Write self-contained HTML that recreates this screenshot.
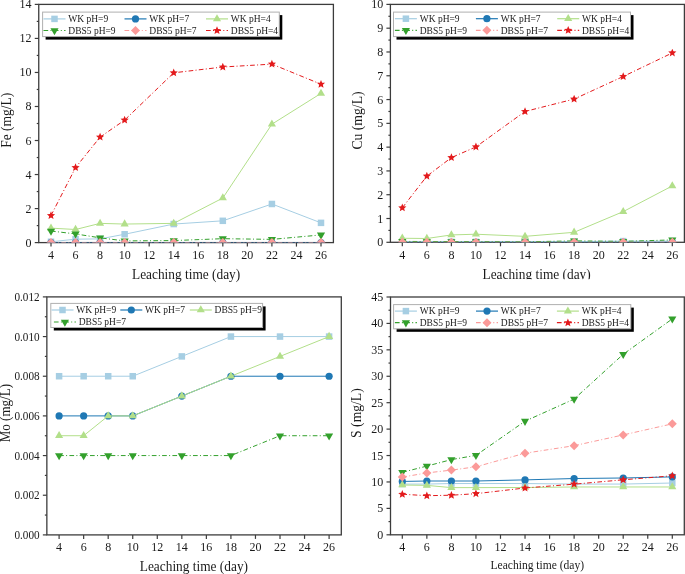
<!DOCTYPE html>
<html><head><meta charset="utf-8"><style>
html,body{margin:0;padding:0;background:#fff;}
body{width:685px;height:574px;overflow:hidden;}
svg{display:block;font-family:"Liberation Serif", serif;filter:blur(0.35px);}
</style></head><body>
<svg width="685" height="574" viewBox="0 0 685 574">
<rect width="685" height="574" fill="#fff"/>
<clipPath id="cfe"><rect x="38.75" y="4.4" width="294.65" height="238.2"/></clipPath>
<rect x="38.75" y="4.4" width="294.65" height="238.2" fill="none" stroke="#3c3c3c" stroke-width="1.3"/>
<line x1="51.00" y1="242.6" x2="51.00" y2="246.6" stroke="#3c3c3c" stroke-width="1.2"/>
<text x="51.00" y="258.80" font-size="12" text-anchor="middle" fill="#1a1a1a">4</text>
<line x1="75.55" y1="242.6" x2="75.55" y2="246.6" stroke="#3c3c3c" stroke-width="1.2"/>
<text x="75.55" y="258.80" font-size="12" text-anchor="middle" fill="#1a1a1a">6</text>
<line x1="100.09" y1="242.6" x2="100.09" y2="246.6" stroke="#3c3c3c" stroke-width="1.2"/>
<text x="100.09" y="258.80" font-size="12" text-anchor="middle" fill="#1a1a1a">8</text>
<line x1="124.64" y1="242.6" x2="124.64" y2="246.6" stroke="#3c3c3c" stroke-width="1.2"/>
<text x="124.64" y="258.80" font-size="12" text-anchor="middle" fill="#1a1a1a">10</text>
<line x1="149.18" y1="242.6" x2="149.18" y2="246.6" stroke="#3c3c3c" stroke-width="1.2"/>
<text x="149.18" y="258.80" font-size="12" text-anchor="middle" fill="#1a1a1a">12</text>
<line x1="173.73" y1="242.6" x2="173.73" y2="246.6" stroke="#3c3c3c" stroke-width="1.2"/>
<text x="173.73" y="258.80" font-size="12" text-anchor="middle" fill="#1a1a1a">14</text>
<line x1="198.27" y1="242.6" x2="198.27" y2="246.6" stroke="#3c3c3c" stroke-width="1.2"/>
<text x="198.27" y="258.80" font-size="12" text-anchor="middle" fill="#1a1a1a">16</text>
<line x1="222.82" y1="242.6" x2="222.82" y2="246.6" stroke="#3c3c3c" stroke-width="1.2"/>
<text x="222.82" y="258.80" font-size="12" text-anchor="middle" fill="#1a1a1a">18</text>
<line x1="247.36" y1="242.6" x2="247.36" y2="246.6" stroke="#3c3c3c" stroke-width="1.2"/>
<text x="247.36" y="258.80" font-size="12" text-anchor="middle" fill="#1a1a1a">20</text>
<line x1="271.91" y1="242.6" x2="271.91" y2="246.6" stroke="#3c3c3c" stroke-width="1.2"/>
<text x="271.91" y="258.80" font-size="12" text-anchor="middle" fill="#1a1a1a">22</text>
<line x1="296.45" y1="242.6" x2="296.45" y2="246.6" stroke="#3c3c3c" stroke-width="1.2"/>
<text x="296.45" y="258.80" font-size="12" text-anchor="middle" fill="#1a1a1a">24</text>
<line x1="321.00" y1="242.6" x2="321.00" y2="246.6" stroke="#3c3c3c" stroke-width="1.2"/>
<text x="321.00" y="258.80" font-size="12" text-anchor="middle" fill="#1a1a1a">26</text>
<line x1="34.75" y1="242.60" x2="38.75" y2="242.60" stroke="#3c3c3c" stroke-width="1.2"/>
<text x="0" y="0" font-size="12" text-anchor="end" fill="#1a1a1a" transform="translate(31.55,246.60) scale(1.0,1)">0</text>
<line x1="34.75" y1="208.57" x2="38.75" y2="208.57" stroke="#3c3c3c" stroke-width="1.2"/>
<text x="0" y="0" font-size="12" text-anchor="end" fill="#1a1a1a" transform="translate(31.55,212.57) scale(1.0,1)">2</text>
<line x1="34.75" y1="174.54" x2="38.75" y2="174.54" stroke="#3c3c3c" stroke-width="1.2"/>
<text x="0" y="0" font-size="12" text-anchor="end" fill="#1a1a1a" transform="translate(31.55,178.54) scale(1.0,1)">4</text>
<line x1="34.75" y1="140.51" x2="38.75" y2="140.51" stroke="#3c3c3c" stroke-width="1.2"/>
<text x="0" y="0" font-size="12" text-anchor="end" fill="#1a1a1a" transform="translate(31.55,144.51) scale(1.0,1)">6</text>
<line x1="34.75" y1="106.49" x2="38.75" y2="106.49" stroke="#3c3c3c" stroke-width="1.2"/>
<text x="0" y="0" font-size="12" text-anchor="end" fill="#1a1a1a" transform="translate(31.55,110.49) scale(1.0,1)">8</text>
<line x1="34.75" y1="72.46" x2="38.75" y2="72.46" stroke="#3c3c3c" stroke-width="1.2"/>
<text x="0" y="0" font-size="12" text-anchor="end" fill="#1a1a1a" transform="translate(31.55,76.46) scale(1.0,1)">10</text>
<line x1="34.75" y1="38.43" x2="38.75" y2="38.43" stroke="#3c3c3c" stroke-width="1.2"/>
<text x="0" y="0" font-size="12" text-anchor="end" fill="#1a1a1a" transform="translate(31.55,42.43) scale(1.0,1)">12</text>
<line x1="34.75" y1="4.40" x2="38.75" y2="4.40" stroke="#3c3c3c" stroke-width="1.2"/>
<text x="0" y="0" font-size="12" text-anchor="end" fill="#1a1a1a" transform="translate(31.55,8.40) scale(1.0,1)">14</text>
<line x1="36.75" y1="225.59" x2="38.75" y2="225.59" stroke="#3c3c3c" stroke-width="1.2"/>
<line x1="36.75" y1="191.56" x2="38.75" y2="191.56" stroke="#3c3c3c" stroke-width="1.2"/>
<line x1="36.75" y1="157.53" x2="38.75" y2="157.53" stroke="#3c3c3c" stroke-width="1.2"/>
<line x1="36.75" y1="123.50" x2="38.75" y2="123.50" stroke="#3c3c3c" stroke-width="1.2"/>
<line x1="36.75" y1="89.47" x2="38.75" y2="89.47" stroke="#3c3c3c" stroke-width="1.2"/>
<line x1="36.75" y1="55.44" x2="38.75" y2="55.44" stroke="#3c3c3c" stroke-width="1.2"/>
<line x1="36.75" y1="21.41" x2="38.75" y2="21.41" stroke="#3c3c3c" stroke-width="1.2"/>
<text x="0" y="0" font-size="14" text-anchor="middle" fill="#1a1a1a" transform="translate(186.1,278.7) scale(0.955,1)">Leaching time (day)</text>
<text x="0" y="0" font-size="14.5" text-anchor="middle" fill="#1a1a1a" transform="translate(11.0,120.3) rotate(-90) scale(0.93,1)">Fe (mg/L)</text>
<g clip-path="url(#cfe)">
<polyline points="51.00,241.75 75.55,239.20 100.09,238.86 124.64,234.26 173.73,224.05 222.82,220.82 271.91,203.98 321.00,222.86" fill="none" stroke="#a6cee3" stroke-width="1.0"/>
<rect x="47.75" y="238.50" width="6.5" height="6.5" fill="#a6cee3"/>
<rect x="72.30" y="235.95" width="6.5" height="6.5" fill="#a6cee3"/>
<rect x="96.84" y="235.61" width="6.5" height="6.5" fill="#a6cee3"/>
<rect x="121.39" y="231.01" width="6.5" height="6.5" fill="#a6cee3"/>
<rect x="170.48" y="220.80" width="6.5" height="6.5" fill="#a6cee3"/>
<rect x="219.57" y="217.57" width="6.5" height="6.5" fill="#a6cee3"/>
<rect x="268.66" y="200.73" width="6.5" height="6.5" fill="#a6cee3"/>
<rect x="317.75" y="219.61" width="6.5" height="6.5" fill="#a6cee3"/>
<polyline points="51.00,242.60 75.55,242.60 100.09,242.60 124.64,242.60 173.73,242.60 222.82,242.60 271.91,242.60 321.00,242.60" fill="none" stroke="#1f78b4" stroke-width="1.0"/>
<circle cx="51.00" cy="242.60" r="3.6" fill="#1f78b4"/>
<circle cx="75.55" cy="242.60" r="3.6" fill="#1f78b4"/>
<circle cx="100.09" cy="242.60" r="3.6" fill="#1f78b4"/>
<circle cx="124.64" cy="242.60" r="3.6" fill="#1f78b4"/>
<circle cx="173.73" cy="242.60" r="3.6" fill="#1f78b4"/>
<circle cx="222.82" cy="242.60" r="3.6" fill="#1f78b4"/>
<circle cx="271.91" cy="242.60" r="3.6" fill="#1f78b4"/>
<circle cx="321.00" cy="242.60" r="3.6" fill="#1f78b4"/>
<polyline points="51.00,228.14 75.55,229.50 100.09,223.37 124.64,224.05 173.73,223.37 222.82,198.02 271.91,124.18 321.00,93.38" fill="none" stroke="#b2df8a" stroke-width="1.0"/>
<polygon points="51.00,223.44 55.07,230.49 46.93,230.49" fill="#b2df8a"/>
<polygon points="75.55,224.80 79.62,231.85 71.48,231.85" fill="#b2df8a"/>
<polygon points="100.09,218.67 104.16,225.72 96.02,225.72" fill="#b2df8a"/>
<polygon points="124.64,219.35 128.71,226.40 120.57,226.40" fill="#b2df8a"/>
<polygon points="173.73,218.67 177.80,225.72 169.66,225.72" fill="#b2df8a"/>
<polygon points="222.82,193.32 226.89,200.37 218.75,200.37" fill="#b2df8a"/>
<polygon points="271.91,119.48 275.98,126.53 267.84,126.53" fill="#b2df8a"/>
<polygon points="321.00,88.68 325.07,95.73 316.93,95.73" fill="#b2df8a"/>
<polyline points="51.00,231.03 75.55,233.92 100.09,237.84 124.64,240.90 173.73,240.56 222.82,238.69 271.91,239.37 321.00,234.94" fill="none" stroke="#33a02c" stroke-width="1.0" stroke-dasharray="4.7 2.3 1 2.3"/>
<polygon points="51.00,235.73 55.07,228.68 46.93,228.68" fill="#33a02c"/>
<polygon points="75.55,238.62 79.62,231.57 71.48,231.57" fill="#33a02c"/>
<polygon points="100.09,242.54 104.16,235.49 96.02,235.49" fill="#33a02c"/>
<polygon points="124.64,245.60 128.71,238.55 120.57,238.55" fill="#33a02c"/>
<polygon points="173.73,245.26 177.80,238.21 169.66,238.21" fill="#33a02c"/>
<polygon points="222.82,243.39 226.89,236.34 218.75,236.34" fill="#33a02c"/>
<polygon points="271.91,244.07 275.98,237.02 267.84,237.02" fill="#33a02c"/>
<polygon points="321.00,239.64 325.07,232.59 316.93,232.59" fill="#33a02c"/>
<polyline points="51.00,242.60 75.55,242.60 100.09,242.60 124.64,242.60 173.73,242.60 222.82,242.60 271.91,242.60 321.00,242.60" fill="none" stroke="#fb9a99" stroke-width="1.0" stroke-dasharray="4.7 2.3 1 2.3"/>
<polygon points="51.00,238.10 55.50,242.60 51.00,247.10 46.50,242.60" fill="#fb9a99"/>
<polygon points="75.55,238.10 80.05,242.60 75.55,247.10 71.05,242.60" fill="#fb9a99"/>
<polygon points="100.09,238.10 104.59,242.60 100.09,247.10 95.59,242.60" fill="#fb9a99"/>
<polygon points="124.64,238.10 129.14,242.60 124.64,247.10 120.14,242.60" fill="#fb9a99"/>
<polygon points="173.73,238.10 178.23,242.60 173.73,247.10 169.23,242.60" fill="#fb9a99"/>
<polygon points="222.82,238.10 227.32,242.60 222.82,247.10 218.32,242.60" fill="#fb9a99"/>
<polygon points="271.91,238.10 276.41,242.60 271.91,247.10 267.41,242.60" fill="#fb9a99"/>
<polygon points="321.00,238.10 325.50,242.60 321.00,247.10 316.50,242.60" fill="#fb9a99"/>
<polyline points="51.00,215.55 75.55,167.57 100.09,137.11 124.64,120.10 173.73,72.80 222.82,67.01 271.91,64.12 321.00,84.20" fill="none" stroke="#e31a1c" stroke-width="1.0" stroke-dasharray="4.7 2.3 1 2.3"/>
<polygon points="51.00,211.25 52.14,213.98 55.09,214.22 52.84,216.15 53.53,219.03 51.00,217.48 48.47,219.03 49.16,216.15 46.91,214.22 49.86,213.98" fill="#e31a1c"/>
<polygon points="75.55,163.27 76.68,166.00 79.63,166.24 77.39,168.16 78.07,171.05 75.55,169.50 73.02,171.05 73.71,168.16 71.46,166.24 74.41,166.00" fill="#e31a1c"/>
<polygon points="100.09,132.81 101.23,135.55 104.18,135.78 101.93,137.71 102.62,140.59 100.09,139.05 97.56,140.59 98.25,137.71 96.00,135.78 98.95,135.55" fill="#e31a1c"/>
<polygon points="124.64,115.80 125.77,118.53 128.73,118.77 126.48,120.70 127.16,123.58 124.64,122.03 122.11,123.58 122.80,120.70 120.55,118.77 123.50,118.53" fill="#e31a1c"/>
<polygon points="173.73,68.50 174.86,71.23 177.82,71.47 175.57,73.40 176.25,76.28 173.73,74.73 171.20,76.28 171.89,73.40 169.64,71.47 172.59,71.23" fill="#e31a1c"/>
<polygon points="222.82,62.71 223.96,65.45 226.91,65.68 224.66,67.61 225.35,70.49 222.82,68.95 220.29,70.49 220.98,67.61 218.73,65.68 221.68,65.45" fill="#e31a1c"/>
<polygon points="271.91,59.82 273.05,62.55 276.00,62.79 273.75,64.72 274.44,67.60 271.91,66.06 269.38,67.60 270.07,64.72 267.82,62.79 270.77,62.55" fill="#e31a1c"/>
<polygon points="321.00,79.90 322.14,82.63 325.09,82.87 322.84,84.79 323.53,87.68 321.00,86.13 318.47,87.68 319.16,84.79 316.91,82.87 319.86,82.63" fill="#e31a1c"/>
</g>
<rect x="45.6" y="15.1" width="236.70000000000002" height="24.5" fill="#000"/>
<rect x="42.6" y="12.1" width="236.70000000000002" height="24.5" fill="#fff" stroke="#b0b0b0" stroke-width="1"/>
<line x1="43.50" y1="18.90" x2="65.50" y2="18.90" stroke="#a6cee3" stroke-width="1.2"/>
<rect x="51.25" y="15.65" width="6.5" height="6.5" fill="#a6cee3"/>
<text x="68.30" y="22.20" font-size="9.5" text-anchor="start" fill="#1a1a1a">WK pH=9</text>
<line x1="124.50" y1="18.90" x2="146.50" y2="18.90" stroke="#1f78b4" stroke-width="1.2"/>
<circle cx="135.50" cy="18.90" r="3.6" fill="#1f78b4"/>
<text x="149.30" y="22.20" font-size="9.5" text-anchor="start" fill="#1a1a1a">WK pH=7</text>
<line x1="206.00" y1="18.90" x2="228.00" y2="18.90" stroke="#b2df8a" stroke-width="1.2"/>
<polygon points="217.00,14.20 221.07,21.25 212.93,21.25" fill="#b2df8a"/>
<text x="230.80" y="22.20" font-size="9.5" text-anchor="start" fill="#1a1a1a">WK pH=4</text>
<line x1="43.50" y1="30.50" x2="65.50" y2="30.50" stroke="#33a02c" stroke-width="1.2" stroke-dasharray="4.7 2.3 1 2.3"/>
<polygon points="54.50,35.20 58.57,28.15 50.43,28.15" fill="#33a02c"/>
<text x="68.30" y="33.80" font-size="9.5" text-anchor="start" fill="#1a1a1a">DBS5 pH=9</text>
<line x1="124.50" y1="30.50" x2="146.50" y2="30.50" stroke="#fb9a99" stroke-width="1.2" stroke-dasharray="4.7 2.3 1 2.3"/>
<polygon points="135.50,26.00 140.00,30.50 135.50,35.00 131.00,30.50" fill="#fb9a99"/>
<text x="149.30" y="33.80" font-size="9.5" text-anchor="start" fill="#1a1a1a">DBS5 pH=7</text>
<line x1="206.00" y1="30.50" x2="228.00" y2="30.50" stroke="#e31a1c" stroke-width="1.2" stroke-dasharray="4.7 2.3 1 2.3"/>
<polygon points="217.00,26.20 218.14,28.93 221.09,29.17 218.84,31.10 219.53,33.98 217.00,32.44 214.47,33.98 215.16,31.10 212.91,29.17 215.86,28.93" fill="#e31a1c"/>
<text x="230.80" y="33.80" font-size="9.5" text-anchor="start" fill="#1a1a1a">DBS5 pH=4</text>
<clipPath id="ccu"><rect x="390.4" y="4.4" width="294.0" height="237.9"/></clipPath>
<rect x="390.4" y="4.4" width="294.0" height="237.9" fill="none" stroke="#3c3c3c" stroke-width="1.3"/>
<line x1="402.30" y1="242.3" x2="402.30" y2="246.3" stroke="#3c3c3c" stroke-width="1.2"/>
<text x="402.30" y="258.80" font-size="12" text-anchor="middle" fill="#1a1a1a">4</text>
<line x1="426.85" y1="242.3" x2="426.85" y2="246.3" stroke="#3c3c3c" stroke-width="1.2"/>
<text x="426.85" y="258.80" font-size="12" text-anchor="middle" fill="#1a1a1a">6</text>
<line x1="451.39" y1="242.3" x2="451.39" y2="246.3" stroke="#3c3c3c" stroke-width="1.2"/>
<text x="451.39" y="258.80" font-size="12" text-anchor="middle" fill="#1a1a1a">8</text>
<line x1="475.94" y1="242.3" x2="475.94" y2="246.3" stroke="#3c3c3c" stroke-width="1.2"/>
<text x="475.94" y="258.80" font-size="12" text-anchor="middle" fill="#1a1a1a">10</text>
<line x1="500.48" y1="242.3" x2="500.48" y2="246.3" stroke="#3c3c3c" stroke-width="1.2"/>
<text x="500.48" y="258.80" font-size="12" text-anchor="middle" fill="#1a1a1a">12</text>
<line x1="525.03" y1="242.3" x2="525.03" y2="246.3" stroke="#3c3c3c" stroke-width="1.2"/>
<text x="525.03" y="258.80" font-size="12" text-anchor="middle" fill="#1a1a1a">14</text>
<line x1="549.57" y1="242.3" x2="549.57" y2="246.3" stroke="#3c3c3c" stroke-width="1.2"/>
<text x="549.57" y="258.80" font-size="12" text-anchor="middle" fill="#1a1a1a">16</text>
<line x1="574.12" y1="242.3" x2="574.12" y2="246.3" stroke="#3c3c3c" stroke-width="1.2"/>
<text x="574.12" y="258.80" font-size="12" text-anchor="middle" fill="#1a1a1a">18</text>
<line x1="598.66" y1="242.3" x2="598.66" y2="246.3" stroke="#3c3c3c" stroke-width="1.2"/>
<text x="598.66" y="258.80" font-size="12" text-anchor="middle" fill="#1a1a1a">20</text>
<line x1="623.21" y1="242.3" x2="623.21" y2="246.3" stroke="#3c3c3c" stroke-width="1.2"/>
<text x="623.21" y="258.80" font-size="12" text-anchor="middle" fill="#1a1a1a">22</text>
<line x1="647.75" y1="242.3" x2="647.75" y2="246.3" stroke="#3c3c3c" stroke-width="1.2"/>
<text x="647.75" y="258.80" font-size="12" text-anchor="middle" fill="#1a1a1a">24</text>
<line x1="672.30" y1="242.3" x2="672.30" y2="246.3" stroke="#3c3c3c" stroke-width="1.2"/>
<text x="672.30" y="258.80" font-size="12" text-anchor="middle" fill="#1a1a1a">26</text>
<line x1="386.4" y1="242.30" x2="390.4" y2="242.30" stroke="#3c3c3c" stroke-width="1.2"/>
<text x="0" y="0" font-size="12" text-anchor="end" fill="#1a1a1a" transform="translate(383.20,246.30) scale(1.0,1)">0</text>
<line x1="386.4" y1="218.51" x2="390.4" y2="218.51" stroke="#3c3c3c" stroke-width="1.2"/>
<text x="0" y="0" font-size="12" text-anchor="end" fill="#1a1a1a" transform="translate(383.20,222.51) scale(1.0,1)">1</text>
<line x1="386.4" y1="194.72" x2="390.4" y2="194.72" stroke="#3c3c3c" stroke-width="1.2"/>
<text x="0" y="0" font-size="12" text-anchor="end" fill="#1a1a1a" transform="translate(383.20,198.72) scale(1.0,1)">2</text>
<line x1="386.4" y1="170.93" x2="390.4" y2="170.93" stroke="#3c3c3c" stroke-width="1.2"/>
<text x="0" y="0" font-size="12" text-anchor="end" fill="#1a1a1a" transform="translate(383.20,174.93) scale(1.0,1)">3</text>
<line x1="386.4" y1="147.14" x2="390.4" y2="147.14" stroke="#3c3c3c" stroke-width="1.2"/>
<text x="0" y="0" font-size="12" text-anchor="end" fill="#1a1a1a" transform="translate(383.20,151.14) scale(1.0,1)">4</text>
<line x1="386.4" y1="123.35" x2="390.4" y2="123.35" stroke="#3c3c3c" stroke-width="1.2"/>
<text x="0" y="0" font-size="12" text-anchor="end" fill="#1a1a1a" transform="translate(383.20,127.35) scale(1.0,1)">5</text>
<line x1="386.4" y1="99.56" x2="390.4" y2="99.56" stroke="#3c3c3c" stroke-width="1.2"/>
<text x="0" y="0" font-size="12" text-anchor="end" fill="#1a1a1a" transform="translate(383.20,103.56) scale(1.0,1)">6</text>
<line x1="386.4" y1="75.77" x2="390.4" y2="75.77" stroke="#3c3c3c" stroke-width="1.2"/>
<text x="0" y="0" font-size="12" text-anchor="end" fill="#1a1a1a" transform="translate(383.20,79.77) scale(1.0,1)">7</text>
<line x1="386.4" y1="51.98" x2="390.4" y2="51.98" stroke="#3c3c3c" stroke-width="1.2"/>
<text x="0" y="0" font-size="12" text-anchor="end" fill="#1a1a1a" transform="translate(383.20,55.98) scale(1.0,1)">8</text>
<line x1="386.4" y1="28.19" x2="390.4" y2="28.19" stroke="#3c3c3c" stroke-width="1.2"/>
<text x="0" y="0" font-size="12" text-anchor="end" fill="#1a1a1a" transform="translate(383.20,32.19) scale(1.0,1)">9</text>
<line x1="386.4" y1="4.40" x2="390.4" y2="4.40" stroke="#3c3c3c" stroke-width="1.2"/>
<text x="0" y="0" font-size="12" text-anchor="end" fill="#1a1a1a" transform="translate(383.20,8.40) scale(1.0,1)">10</text>
<line x1="388.4" y1="230.41" x2="390.4" y2="230.41" stroke="#3c3c3c" stroke-width="1.2"/>
<line x1="388.4" y1="206.62" x2="390.4" y2="206.62" stroke="#3c3c3c" stroke-width="1.2"/>
<line x1="388.4" y1="182.83" x2="390.4" y2="182.83" stroke="#3c3c3c" stroke-width="1.2"/>
<line x1="388.4" y1="159.04" x2="390.4" y2="159.04" stroke="#3c3c3c" stroke-width="1.2"/>
<line x1="388.4" y1="135.25" x2="390.4" y2="135.25" stroke="#3c3c3c" stroke-width="1.2"/>
<line x1="388.4" y1="111.46" x2="390.4" y2="111.46" stroke="#3c3c3c" stroke-width="1.2"/>
<line x1="388.4" y1="87.66" x2="390.4" y2="87.66" stroke="#3c3c3c" stroke-width="1.2"/>
<line x1="388.4" y1="63.88" x2="390.4" y2="63.88" stroke="#3c3c3c" stroke-width="1.2"/>
<line x1="388.4" y1="40.09" x2="390.4" y2="40.09" stroke="#3c3c3c" stroke-width="1.2"/>
<line x1="388.4" y1="16.29" x2="390.4" y2="16.29" stroke="#3c3c3c" stroke-width="1.2"/>
<text x="0" y="0" font-size="14" text-anchor="middle" fill="#1a1a1a" transform="translate(536.6,278.7) scale(0.955,1)">Leaching time (day)</text>
<rect x="440" y="279.2" width="200" height="10.800000000000011" fill="#fff"/>
<text x="0" y="0" font-size="14.5" text-anchor="middle" fill="#1a1a1a" transform="translate(361.9,120.5) rotate(-90) scale(0.945,1)">Cu (mg/L)</text>
<g clip-path="url(#ccu)">
<polyline points="402.30,241.82 426.85,241.82 451.39,241.82 475.94,241.82 525.03,241.82 574.12,241.59 623.21,241.11 672.30,241.11" fill="none" stroke="#a6cee3" stroke-width="1.0"/>
<rect x="399.05" y="238.57" width="6.5" height="6.5" fill="#a6cee3"/>
<rect x="423.60" y="238.57" width="6.5" height="6.5" fill="#a6cee3"/>
<rect x="448.14" y="238.57" width="6.5" height="6.5" fill="#a6cee3"/>
<rect x="472.69" y="238.57" width="6.5" height="6.5" fill="#a6cee3"/>
<rect x="521.78" y="238.57" width="6.5" height="6.5" fill="#a6cee3"/>
<rect x="570.87" y="238.34" width="6.5" height="6.5" fill="#a6cee3"/>
<rect x="619.96" y="237.86" width="6.5" height="6.5" fill="#a6cee3"/>
<rect x="669.05" y="237.86" width="6.5" height="6.5" fill="#a6cee3"/>
<polyline points="402.30,242.30 426.85,242.30 451.39,242.30 475.94,242.30 525.03,242.30 574.12,242.30 623.21,242.30 672.30,242.30" fill="none" stroke="#1f78b4" stroke-width="1.0"/>
<circle cx="402.30" cy="242.30" r="3.6" fill="#1f78b4"/>
<circle cx="426.85" cy="242.30" r="3.6" fill="#1f78b4"/>
<circle cx="451.39" cy="242.30" r="3.6" fill="#1f78b4"/>
<circle cx="475.94" cy="242.30" r="3.6" fill="#1f78b4"/>
<circle cx="525.03" cy="242.30" r="3.6" fill="#1f78b4"/>
<circle cx="574.12" cy="242.30" r="3.6" fill="#1f78b4"/>
<circle cx="623.21" cy="242.30" r="3.6" fill="#1f78b4"/>
<circle cx="672.30" cy="242.30" r="3.6" fill="#1f78b4"/>
<polyline points="402.30,238.26 426.85,238.49 451.39,234.93 475.94,234.21 525.03,236.35 574.12,232.31 623.21,211.61 672.30,185.92" fill="none" stroke="#b2df8a" stroke-width="1.0"/>
<polygon points="402.30,233.56 406.37,240.61 398.23,240.61" fill="#b2df8a"/>
<polygon points="426.85,233.79 430.92,240.84 422.78,240.84" fill="#b2df8a"/>
<polygon points="451.39,230.23 455.46,237.28 447.32,237.28" fill="#b2df8a"/>
<polygon points="475.94,229.51 480.01,236.56 471.87,236.56" fill="#b2df8a"/>
<polygon points="525.03,231.65 529.10,238.70 520.96,238.70" fill="#b2df8a"/>
<polygon points="574.12,227.61 578.19,234.66 570.05,234.66" fill="#b2df8a"/>
<polygon points="623.21,206.91 627.28,213.96 619.14,213.96" fill="#b2df8a"/>
<polygon points="672.30,181.22 676.37,188.27 668.23,188.27" fill="#b2df8a"/>
<polyline points="402.30,241.35 426.85,241.59 451.39,241.59 475.94,241.59 525.03,241.82 574.12,240.87 623.21,241.35 672.30,239.92" fill="none" stroke="#33a02c" stroke-width="1.0" stroke-dasharray="4.7 2.3 1 2.3"/>
<polygon points="402.30,246.05 406.37,239.00 398.23,239.00" fill="#33a02c"/>
<polygon points="426.85,246.29 430.92,239.24 422.78,239.24" fill="#33a02c"/>
<polygon points="451.39,246.29 455.46,239.24 447.32,239.24" fill="#33a02c"/>
<polygon points="475.94,246.29 480.01,239.24 471.87,239.24" fill="#33a02c"/>
<polygon points="525.03,246.52 529.10,239.47 520.96,239.47" fill="#33a02c"/>
<polygon points="574.12,245.57 578.19,238.52 570.05,238.52" fill="#33a02c"/>
<polygon points="623.21,246.05 627.28,239.00 619.14,239.00" fill="#33a02c"/>
<polygon points="672.30,244.62 676.37,237.57 668.23,237.57" fill="#33a02c"/>
<polyline points="402.30,242.30 426.85,242.30 451.39,242.30 475.94,242.30 525.03,242.30 574.12,242.30 623.21,242.30 672.30,242.30" fill="none" stroke="#fb9a99" stroke-width="1.0" stroke-dasharray="4.7 2.3 1 2.3"/>
<polygon points="402.30,237.80 406.80,242.30 402.30,246.80 397.80,242.30" fill="#fb9a99"/>
<polygon points="426.85,237.80 431.35,242.30 426.85,246.80 422.35,242.30" fill="#fb9a99"/>
<polygon points="451.39,237.80 455.89,242.30 451.39,246.80 446.89,242.30" fill="#fb9a99"/>
<polygon points="475.94,237.80 480.44,242.30 475.94,246.80 471.44,242.30" fill="#fb9a99"/>
<polygon points="525.03,237.80 529.53,242.30 525.03,246.80 520.53,242.30" fill="#fb9a99"/>
<polygon points="574.12,237.80 578.62,242.30 574.12,246.80 569.62,242.30" fill="#fb9a99"/>
<polygon points="623.21,237.80 627.71,242.30 623.21,246.80 618.71,242.30" fill="#fb9a99"/>
<polygon points="672.30,237.80 676.80,242.30 672.30,246.80 667.80,242.30" fill="#fb9a99"/>
<polyline points="402.30,207.80 426.85,176.16 451.39,157.61 475.94,146.90 525.03,111.46 574.12,99.08 623.21,76.48 672.30,52.93" fill="none" stroke="#e31a1c" stroke-width="1.0" stroke-dasharray="4.7 2.3 1 2.3"/>
<polygon points="402.30,203.50 403.44,206.24 406.39,206.48 404.14,208.40 404.83,211.28 402.30,209.74 399.77,211.28 400.46,208.40 398.21,206.48 401.16,206.24" fill="#e31a1c"/>
<polygon points="426.85,171.86 427.98,174.60 430.93,174.84 428.69,176.76 429.37,179.64 426.85,178.10 424.32,179.64 425.01,176.76 422.76,174.84 425.71,174.60" fill="#e31a1c"/>
<polygon points="451.39,153.31 452.53,156.04 455.48,156.28 453.23,158.21 453.92,161.09 451.39,159.54 448.86,161.09 449.55,158.21 447.30,156.28 450.25,156.04" fill="#e31a1c"/>
<polygon points="475.94,142.60 477.07,145.34 480.03,145.57 477.78,147.50 478.46,150.38 475.94,148.84 473.41,150.38 474.10,147.50 471.85,145.57 474.80,145.34" fill="#e31a1c"/>
<polygon points="525.03,107.16 526.16,109.89 529.12,110.13 526.87,112.05 527.55,114.93 525.03,113.39 522.50,114.93 523.19,112.05 520.94,110.13 523.89,109.89" fill="#e31a1c"/>
<polygon points="574.12,94.78 575.26,97.52 578.21,97.76 575.96,99.68 576.65,102.56 574.12,101.02 571.59,102.56 572.28,99.68 570.03,97.76 572.98,97.52" fill="#e31a1c"/>
<polygon points="623.21,72.18 624.35,74.92 627.30,75.15 625.05,77.08 625.74,79.96 623.21,78.42 620.68,79.96 621.37,77.08 619.12,75.15 622.07,74.92" fill="#e31a1c"/>
<polygon points="672.30,48.63 673.44,51.37 676.39,51.60 674.14,53.53 674.83,56.41 672.30,54.87 669.77,56.41 670.46,53.53 668.21,51.60 671.16,51.37" fill="#e31a1c"/>
</g>
<rect x="396.5" y="15.1" width="237.0" height="24.5" fill="#000"/>
<rect x="393.5" y="12.1" width="237.0" height="24.5" fill="#fff" stroke="#b0b0b0" stroke-width="1"/>
<line x1="394.90" y1="18.70" x2="416.90" y2="18.70" stroke="#a6cee3" stroke-width="1.2"/>
<rect x="402.65" y="15.45" width="6.5" height="6.5" fill="#a6cee3"/>
<text x="419.70" y="22.00" font-size="9.5" text-anchor="start" fill="#1a1a1a">WK pH=9</text>
<line x1="475.90" y1="18.70" x2="497.90" y2="18.70" stroke="#1f78b4" stroke-width="1.2"/>
<circle cx="486.90" cy="18.70" r="3.6" fill="#1f78b4"/>
<text x="500.70" y="22.00" font-size="9.5" text-anchor="start" fill="#1a1a1a">WK pH=7</text>
<line x1="557.20" y1="18.70" x2="579.20" y2="18.70" stroke="#b2df8a" stroke-width="1.2"/>
<polygon points="568.20,14.00 572.27,21.05 564.13,21.05" fill="#b2df8a"/>
<text x="582.00" y="22.00" font-size="9.5" text-anchor="start" fill="#1a1a1a">WK pH=4</text>
<line x1="394.90" y1="30.30" x2="416.90" y2="30.30" stroke="#33a02c" stroke-width="1.2" stroke-dasharray="4.7 2.3 1 2.3"/>
<polygon points="405.90,35.00 409.97,27.95 401.83,27.95" fill="#33a02c"/>
<text x="419.70" y="33.60" font-size="9.5" text-anchor="start" fill="#1a1a1a">DBS5 pH=9</text>
<line x1="475.90" y1="30.30" x2="497.90" y2="30.30" stroke="#fb9a99" stroke-width="1.2" stroke-dasharray="4.7 2.3 1 2.3"/>
<polygon points="486.90,25.80 491.40,30.30 486.90,34.80 482.40,30.30" fill="#fb9a99"/>
<text x="500.70" y="33.60" font-size="9.5" text-anchor="start" fill="#1a1a1a">DBS5 pH=7</text>
<line x1="557.20" y1="30.30" x2="579.20" y2="30.30" stroke="#e31a1c" stroke-width="1.2" stroke-dasharray="4.7 2.3 1 2.3"/>
<polygon points="568.20,26.00 569.34,28.73 572.29,28.97 570.04,30.90 570.73,33.78 568.20,32.23 565.67,33.78 566.36,30.90 564.11,28.97 567.06,28.73" fill="#e31a1c"/>
<text x="582.00" y="33.60" font-size="9.5" text-anchor="start" fill="#1a1a1a">DBS5 pH=4</text>
<clipPath id="cmo"><rect x="46.85" y="296.9" width="294.45" height="238.0"/></clipPath>
<rect x="46.85" y="296.9" width="294.45" height="238.0" fill="none" stroke="#3c3c3c" stroke-width="1.3"/>
<line x1="59.10" y1="534.9" x2="59.10" y2="538.9" stroke="#3c3c3c" stroke-width="1.2"/>
<text x="59.10" y="551.00" font-size="12" text-anchor="middle" fill="#1a1a1a">4</text>
<line x1="83.65" y1="534.9" x2="83.65" y2="538.9" stroke="#3c3c3c" stroke-width="1.2"/>
<text x="83.65" y="551.00" font-size="12" text-anchor="middle" fill="#1a1a1a">6</text>
<line x1="108.19" y1="534.9" x2="108.19" y2="538.9" stroke="#3c3c3c" stroke-width="1.2"/>
<text x="108.19" y="551.00" font-size="12" text-anchor="middle" fill="#1a1a1a">8</text>
<line x1="132.74" y1="534.9" x2="132.74" y2="538.9" stroke="#3c3c3c" stroke-width="1.2"/>
<text x="132.74" y="551.00" font-size="12" text-anchor="middle" fill="#1a1a1a">10</text>
<line x1="157.28" y1="534.9" x2="157.28" y2="538.9" stroke="#3c3c3c" stroke-width="1.2"/>
<text x="157.28" y="551.00" font-size="12" text-anchor="middle" fill="#1a1a1a">12</text>
<line x1="181.83" y1="534.9" x2="181.83" y2="538.9" stroke="#3c3c3c" stroke-width="1.2"/>
<text x="181.83" y="551.00" font-size="12" text-anchor="middle" fill="#1a1a1a">14</text>
<line x1="206.37" y1="534.9" x2="206.37" y2="538.9" stroke="#3c3c3c" stroke-width="1.2"/>
<text x="206.37" y="551.00" font-size="12" text-anchor="middle" fill="#1a1a1a">16</text>
<line x1="230.92" y1="534.9" x2="230.92" y2="538.9" stroke="#3c3c3c" stroke-width="1.2"/>
<text x="230.92" y="551.00" font-size="12" text-anchor="middle" fill="#1a1a1a">18</text>
<line x1="255.46" y1="534.9" x2="255.46" y2="538.9" stroke="#3c3c3c" stroke-width="1.2"/>
<text x="255.46" y="551.00" font-size="12" text-anchor="middle" fill="#1a1a1a">20</text>
<line x1="280.01" y1="534.9" x2="280.01" y2="538.9" stroke="#3c3c3c" stroke-width="1.2"/>
<text x="280.01" y="551.00" font-size="12" text-anchor="middle" fill="#1a1a1a">22</text>
<line x1="304.55" y1="534.9" x2="304.55" y2="538.9" stroke="#3c3c3c" stroke-width="1.2"/>
<text x="304.55" y="551.00" font-size="12" text-anchor="middle" fill="#1a1a1a">24</text>
<line x1="329.10" y1="534.9" x2="329.10" y2="538.9" stroke="#3c3c3c" stroke-width="1.2"/>
<text x="329.10" y="551.00" font-size="12" text-anchor="middle" fill="#1a1a1a">26</text>
<line x1="42.85" y1="534.90" x2="46.85" y2="534.90" stroke="#3c3c3c" stroke-width="1.2"/>
<text x="0" y="0" font-size="12" text-anchor="end" fill="#1a1a1a" transform="translate(39.65,538.90) scale(0.935,1)">0.000</text>
<line x1="42.85" y1="495.23" x2="46.85" y2="495.23" stroke="#3c3c3c" stroke-width="1.2"/>
<text x="0" y="0" font-size="12" text-anchor="end" fill="#1a1a1a" transform="translate(39.65,499.23) scale(0.935,1)">0.002</text>
<line x1="42.85" y1="455.57" x2="46.85" y2="455.57" stroke="#3c3c3c" stroke-width="1.2"/>
<text x="0" y="0" font-size="12" text-anchor="end" fill="#1a1a1a" transform="translate(39.65,459.57) scale(0.935,1)">0.004</text>
<line x1="42.85" y1="415.90" x2="46.85" y2="415.90" stroke="#3c3c3c" stroke-width="1.2"/>
<text x="0" y="0" font-size="12" text-anchor="end" fill="#1a1a1a" transform="translate(39.65,419.90) scale(0.935,1)">0.006</text>
<line x1="42.85" y1="376.23" x2="46.85" y2="376.23" stroke="#3c3c3c" stroke-width="1.2"/>
<text x="0" y="0" font-size="12" text-anchor="end" fill="#1a1a1a" transform="translate(39.65,380.23) scale(0.935,1)">0.008</text>
<line x1="42.85" y1="336.57" x2="46.85" y2="336.57" stroke="#3c3c3c" stroke-width="1.2"/>
<text x="0" y="0" font-size="12" text-anchor="end" fill="#1a1a1a" transform="translate(39.65,340.57) scale(0.935,1)">0.010</text>
<line x1="42.85" y1="296.90" x2="46.85" y2="296.90" stroke="#3c3c3c" stroke-width="1.2"/>
<text x="0" y="0" font-size="12" text-anchor="end" fill="#1a1a1a" transform="translate(39.65,300.90) scale(0.935,1)">0.012</text>
<line x1="44.85" y1="515.07" x2="46.85" y2="515.07" stroke="#3c3c3c" stroke-width="1.2"/>
<line x1="44.85" y1="475.40" x2="46.85" y2="475.40" stroke="#3c3c3c" stroke-width="1.2"/>
<line x1="44.85" y1="435.73" x2="46.85" y2="435.73" stroke="#3c3c3c" stroke-width="1.2"/>
<line x1="44.85" y1="396.07" x2="46.85" y2="396.07" stroke="#3c3c3c" stroke-width="1.2"/>
<line x1="44.85" y1="356.40" x2="46.85" y2="356.40" stroke="#3c3c3c" stroke-width="1.2"/>
<line x1="44.85" y1="316.73" x2="46.85" y2="316.73" stroke="#3c3c3c" stroke-width="1.2"/>
<text x="0" y="0" font-size="14" text-anchor="middle" fill="#1a1a1a" transform="translate(193.9,571.0) scale(0.955,1)">Leaching time (day)</text>
<text x="0" y="0" font-size="14.5" text-anchor="middle" fill="#1a1a1a" transform="translate(10.0,413.1) rotate(-90) scale(0.9,1)">Mo (mg/L)</text>
<g clip-path="url(#cmo)">
<polyline points="59.10,376.23 83.65,376.23 108.19,376.23 132.74,376.23 181.83,356.40 230.92,336.57 280.01,336.57 329.10,336.57" fill="none" stroke="#a6cee3" stroke-width="1.0"/>
<rect x="55.85" y="372.98" width="6.5" height="6.5" fill="#a6cee3"/>
<rect x="80.40" y="372.98" width="6.5" height="6.5" fill="#a6cee3"/>
<rect x="104.94" y="372.98" width="6.5" height="6.5" fill="#a6cee3"/>
<rect x="129.49" y="372.98" width="6.5" height="6.5" fill="#a6cee3"/>
<rect x="178.58" y="353.15" width="6.5" height="6.5" fill="#a6cee3"/>
<rect x="227.67" y="333.32" width="6.5" height="6.5" fill="#a6cee3"/>
<rect x="276.76" y="333.32" width="6.5" height="6.5" fill="#a6cee3"/>
<rect x="325.85" y="333.32" width="6.5" height="6.5" fill="#a6cee3"/>
<polyline points="59.10,415.90 83.65,415.90 108.19,415.90 132.74,415.90 181.83,396.07 230.92,376.23 280.01,376.23 329.10,376.23" fill="none" stroke="#1f78b4" stroke-width="1.0"/>
<circle cx="59.10" cy="415.90" r="3.6" fill="#1f78b4"/>
<circle cx="83.65" cy="415.90" r="3.6" fill="#1f78b4"/>
<circle cx="108.19" cy="415.90" r="3.6" fill="#1f78b4"/>
<circle cx="132.74" cy="415.90" r="3.6" fill="#1f78b4"/>
<circle cx="181.83" cy="396.07" r="3.6" fill="#1f78b4"/>
<circle cx="230.92" cy="376.23" r="3.6" fill="#1f78b4"/>
<circle cx="280.01" cy="376.23" r="3.6" fill="#1f78b4"/>
<circle cx="329.10" cy="376.23" r="3.6" fill="#1f78b4"/>
<polyline points="59.10,435.73 83.65,435.73 108.19,415.90 132.74,415.90 181.83,396.07 230.92,376.23 280.01,356.40 329.10,336.57" fill="none" stroke="#b2df8a" stroke-width="1.0"/>
<polygon points="59.10,431.03 63.17,438.08 55.03,438.08" fill="#b2df8a"/>
<polygon points="83.65,431.03 87.72,438.08 79.58,438.08" fill="#b2df8a"/>
<polygon points="108.19,411.20 112.26,418.25 104.12,418.25" fill="#b2df8a"/>
<polygon points="132.74,411.20 136.81,418.25 128.67,418.25" fill="#b2df8a"/>
<polygon points="181.83,391.37 185.90,398.42 177.76,398.42" fill="#b2df8a"/>
<polygon points="230.92,371.53 234.99,378.58 226.85,378.58" fill="#b2df8a"/>
<polygon points="280.01,351.70 284.08,358.75 275.94,358.75" fill="#b2df8a"/>
<polygon points="329.10,331.87 333.17,338.92 325.03,338.92" fill="#b2df8a"/>
<polyline points="59.10,455.57 83.65,455.57 108.19,455.57 132.74,455.57 181.83,455.57 230.92,455.57 280.01,435.73 329.10,435.73" fill="none" stroke="#33a02c" stroke-width="1.0" stroke-dasharray="4.7 2.3 1 2.3"/>
<polygon points="59.10,460.27 63.17,453.22 55.03,453.22" fill="#33a02c"/>
<polygon points="83.65,460.27 87.72,453.22 79.58,453.22" fill="#33a02c"/>
<polygon points="108.19,460.27 112.26,453.22 104.12,453.22" fill="#33a02c"/>
<polygon points="132.74,460.27 136.81,453.22 128.67,453.22" fill="#33a02c"/>
<polygon points="181.83,460.27 185.90,453.22 177.76,453.22" fill="#33a02c"/>
<polygon points="230.92,460.27 234.99,453.22 226.85,453.22" fill="#33a02c"/>
<polygon points="280.01,440.43 284.08,433.38 275.94,433.38" fill="#33a02c"/>
<polygon points="329.10,440.43 333.17,433.38 325.03,433.38" fill="#33a02c"/>
</g>
<rect x="53.8" y="306.4" width="211.8" height="24.100000000000023" fill="#000"/>
<rect x="50.8" y="303.4" width="211.8" height="24.100000000000023" fill="#fff" stroke="#b0b0b0" stroke-width="1"/>
<line x1="51.50" y1="310.00" x2="73.50" y2="310.00" stroke="#a6cee3" stroke-width="1.2"/>
<rect x="59.25" y="306.75" width="6.5" height="6.5" fill="#a6cee3"/>
<text x="76.30" y="313.30" font-size="9.5" text-anchor="start" fill="#1a1a1a">WK pH=9</text>
<line x1="120.30" y1="310.00" x2="142.30" y2="310.00" stroke="#1f78b4" stroke-width="1.2"/>
<circle cx="131.30" cy="310.00" r="3.6" fill="#1f78b4"/>
<text x="145.10" y="313.30" font-size="9.5" text-anchor="start" fill="#1a1a1a">WK pH=7</text>
<line x1="189.80" y1="310.00" x2="211.80" y2="310.00" stroke="#b2df8a" stroke-width="1.2"/>
<polygon points="200.80,305.30 204.87,312.35 196.73,312.35" fill="#b2df8a"/>
<text x="214.60" y="313.30" font-size="9.5" text-anchor="start" fill="#1a1a1a">DBS5 pH=9</text>
<line x1="53.90" y1="322.00" x2="75.90" y2="322.00" stroke="#33a02c" stroke-width="1.2" stroke-dasharray="4.7 2.3 1 2.3"/>
<polygon points="64.90,326.70 68.97,319.65 60.83,319.65" fill="#33a02c"/>
<text x="78.70" y="325.30" font-size="9.5" text-anchor="start" fill="#1a1a1a">DBS5 pH=7</text>
<clipPath id="cs"><rect x="390.5" y="297.0" width="293.79999999999995" height="237.79999999999995"/></clipPath>
<rect x="390.5" y="297.0" width="293.79999999999995" height="237.79999999999995" fill="none" stroke="#3c3c3c" stroke-width="1.3"/>
<line x1="402.30" y1="534.8" x2="402.30" y2="538.8" stroke="#3c3c3c" stroke-width="1.2"/>
<text x="402.30" y="551.00" font-size="12" text-anchor="middle" fill="#1a1a1a">4</text>
<line x1="426.85" y1="534.8" x2="426.85" y2="538.8" stroke="#3c3c3c" stroke-width="1.2"/>
<text x="426.85" y="551.00" font-size="12" text-anchor="middle" fill="#1a1a1a">6</text>
<line x1="451.39" y1="534.8" x2="451.39" y2="538.8" stroke="#3c3c3c" stroke-width="1.2"/>
<text x="451.39" y="551.00" font-size="12" text-anchor="middle" fill="#1a1a1a">8</text>
<line x1="475.94" y1="534.8" x2="475.94" y2="538.8" stroke="#3c3c3c" stroke-width="1.2"/>
<text x="475.94" y="551.00" font-size="12" text-anchor="middle" fill="#1a1a1a">10</text>
<line x1="500.48" y1="534.8" x2="500.48" y2="538.8" stroke="#3c3c3c" stroke-width="1.2"/>
<text x="500.48" y="551.00" font-size="12" text-anchor="middle" fill="#1a1a1a">12</text>
<line x1="525.03" y1="534.8" x2="525.03" y2="538.8" stroke="#3c3c3c" stroke-width="1.2"/>
<text x="525.03" y="551.00" font-size="12" text-anchor="middle" fill="#1a1a1a">14</text>
<line x1="549.57" y1="534.8" x2="549.57" y2="538.8" stroke="#3c3c3c" stroke-width="1.2"/>
<text x="549.57" y="551.00" font-size="12" text-anchor="middle" fill="#1a1a1a">16</text>
<line x1="574.12" y1="534.8" x2="574.12" y2="538.8" stroke="#3c3c3c" stroke-width="1.2"/>
<text x="574.12" y="551.00" font-size="12" text-anchor="middle" fill="#1a1a1a">18</text>
<line x1="598.66" y1="534.8" x2="598.66" y2="538.8" stroke="#3c3c3c" stroke-width="1.2"/>
<text x="598.66" y="551.00" font-size="12" text-anchor="middle" fill="#1a1a1a">20</text>
<line x1="623.21" y1="534.8" x2="623.21" y2="538.8" stroke="#3c3c3c" stroke-width="1.2"/>
<text x="623.21" y="551.00" font-size="12" text-anchor="middle" fill="#1a1a1a">22</text>
<line x1="647.75" y1="534.8" x2="647.75" y2="538.8" stroke="#3c3c3c" stroke-width="1.2"/>
<text x="647.75" y="551.00" font-size="12" text-anchor="middle" fill="#1a1a1a">24</text>
<line x1="672.30" y1="534.8" x2="672.30" y2="538.8" stroke="#3c3c3c" stroke-width="1.2"/>
<text x="672.30" y="551.00" font-size="12" text-anchor="middle" fill="#1a1a1a">26</text>
<line x1="386.5" y1="534.80" x2="390.5" y2="534.80" stroke="#3c3c3c" stroke-width="1.2"/>
<text x="0" y="0" font-size="12" text-anchor="end" fill="#1a1a1a" transform="translate(383.30,538.80) scale(1.0,1)">0</text>
<line x1="386.5" y1="508.38" x2="390.5" y2="508.38" stroke="#3c3c3c" stroke-width="1.2"/>
<text x="0" y="0" font-size="12" text-anchor="end" fill="#1a1a1a" transform="translate(383.30,512.38) scale(1.0,1)">5</text>
<line x1="386.5" y1="481.96" x2="390.5" y2="481.96" stroke="#3c3c3c" stroke-width="1.2"/>
<text x="0" y="0" font-size="12" text-anchor="end" fill="#1a1a1a" transform="translate(383.30,485.96) scale(1.0,1)">10</text>
<line x1="386.5" y1="455.53" x2="390.5" y2="455.53" stroke="#3c3c3c" stroke-width="1.2"/>
<text x="0" y="0" font-size="12" text-anchor="end" fill="#1a1a1a" transform="translate(383.30,459.53) scale(1.0,1)">15</text>
<line x1="386.5" y1="429.11" x2="390.5" y2="429.11" stroke="#3c3c3c" stroke-width="1.2"/>
<text x="0" y="0" font-size="12" text-anchor="end" fill="#1a1a1a" transform="translate(383.30,433.11) scale(1.0,1)">20</text>
<line x1="386.5" y1="402.69" x2="390.5" y2="402.69" stroke="#3c3c3c" stroke-width="1.2"/>
<text x="0" y="0" font-size="12" text-anchor="end" fill="#1a1a1a" transform="translate(383.30,406.69) scale(1.0,1)">25</text>
<line x1="386.5" y1="376.27" x2="390.5" y2="376.27" stroke="#3c3c3c" stroke-width="1.2"/>
<text x="0" y="0" font-size="12" text-anchor="end" fill="#1a1a1a" transform="translate(383.30,380.27) scale(1.0,1)">30</text>
<line x1="386.5" y1="349.84" x2="390.5" y2="349.84" stroke="#3c3c3c" stroke-width="1.2"/>
<text x="0" y="0" font-size="12" text-anchor="end" fill="#1a1a1a" transform="translate(383.30,353.84) scale(1.0,1)">35</text>
<line x1="386.5" y1="323.42" x2="390.5" y2="323.42" stroke="#3c3c3c" stroke-width="1.2"/>
<text x="0" y="0" font-size="12" text-anchor="end" fill="#1a1a1a" transform="translate(383.30,327.42) scale(1.0,1)">40</text>
<line x1="386.5" y1="297.00" x2="390.5" y2="297.00" stroke="#3c3c3c" stroke-width="1.2"/>
<text x="0" y="0" font-size="12" text-anchor="end" fill="#1a1a1a" transform="translate(383.30,301.00) scale(1.0,1)">45</text>
<line x1="388.5" y1="521.59" x2="390.5" y2="521.59" stroke="#3c3c3c" stroke-width="1.2"/>
<line x1="388.5" y1="495.17" x2="390.5" y2="495.17" stroke="#3c3c3c" stroke-width="1.2"/>
<line x1="388.5" y1="468.74" x2="390.5" y2="468.74" stroke="#3c3c3c" stroke-width="1.2"/>
<line x1="388.5" y1="442.32" x2="390.5" y2="442.32" stroke="#3c3c3c" stroke-width="1.2"/>
<line x1="388.5" y1="415.90" x2="390.5" y2="415.90" stroke="#3c3c3c" stroke-width="1.2"/>
<line x1="388.5" y1="389.48" x2="390.5" y2="389.48" stroke="#3c3c3c" stroke-width="1.2"/>
<line x1="388.5" y1="363.06" x2="390.5" y2="363.06" stroke="#3c3c3c" stroke-width="1.2"/>
<line x1="388.5" y1="336.63" x2="390.5" y2="336.63" stroke="#3c3c3c" stroke-width="1.2"/>
<line x1="388.5" y1="310.21" x2="390.5" y2="310.21" stroke="#3c3c3c" stroke-width="1.2"/>
<text x="0" y="0" font-size="11.5" text-anchor="middle" fill="#1a1a1a" transform="translate(537.3,569.2) scale(1.005,1)">Leaching time (day)</text>
<text x="0" y="0" font-size="14.5" text-anchor="middle" fill="#1a1a1a" transform="translate(361.0,413.1) rotate(-90) scale(0.94,1)">S (mg/L)</text>
<g clip-path="url(#cs)">
<polyline points="402.30,484.07 426.85,484.07 451.39,483.54 475.94,483.54 525.03,483.54 574.12,484.07 623.21,484.07 672.30,483.01" fill="none" stroke="#a6cee3" stroke-width="1.0"/>
<rect x="399.05" y="480.82" width="6.5" height="6.5" fill="#a6cee3"/>
<rect x="423.60" y="480.82" width="6.5" height="6.5" fill="#a6cee3"/>
<rect x="448.14" y="480.29" width="6.5" height="6.5" fill="#a6cee3"/>
<rect x="472.69" y="480.29" width="6.5" height="6.5" fill="#a6cee3"/>
<rect x="521.78" y="480.29" width="6.5" height="6.5" fill="#a6cee3"/>
<rect x="570.87" y="480.82" width="6.5" height="6.5" fill="#a6cee3"/>
<rect x="619.96" y="480.82" width="6.5" height="6.5" fill="#a6cee3"/>
<rect x="669.05" y="479.76" width="6.5" height="6.5" fill="#a6cee3"/>
<polyline points="402.30,481.43 426.85,481.00 451.39,481.00 475.94,481.00 525.03,479.89 574.12,478.52 623.21,477.99 672.30,476.88" fill="none" stroke="#1f78b4" stroke-width="1.0"/>
<circle cx="402.30" cy="481.43" r="3.6" fill="#1f78b4"/>
<circle cx="426.85" cy="481.00" r="3.6" fill="#1f78b4"/>
<circle cx="451.39" cy="481.00" r="3.6" fill="#1f78b4"/>
<circle cx="475.94" cy="481.00" r="3.6" fill="#1f78b4"/>
<circle cx="525.03" cy="479.89" r="3.6" fill="#1f78b4"/>
<circle cx="574.12" cy="478.52" r="3.6" fill="#1f78b4"/>
<circle cx="623.21" cy="477.99" r="3.6" fill="#1f78b4"/>
<circle cx="672.30" cy="476.88" r="3.6" fill="#1f78b4"/>
<polyline points="402.30,485.02 426.85,485.39 451.39,487.61 475.94,487.61 525.03,487.50 574.12,486.98 623.21,486.98 672.30,486.98" fill="none" stroke="#b2df8a" stroke-width="1.0"/>
<polygon points="402.30,480.32 406.37,487.37 398.23,487.37" fill="#b2df8a"/>
<polygon points="426.85,480.69 430.92,487.74 422.78,487.74" fill="#b2df8a"/>
<polygon points="451.39,482.91 455.46,489.96 447.32,489.96" fill="#b2df8a"/>
<polygon points="475.94,482.91 480.01,489.96 471.87,489.96" fill="#b2df8a"/>
<polygon points="525.03,482.80 529.10,489.85 520.96,489.85" fill="#b2df8a"/>
<polygon points="574.12,482.28 578.19,489.33 570.05,489.33" fill="#b2df8a"/>
<polygon points="623.21,482.28 627.28,489.33 619.14,489.33" fill="#b2df8a"/>
<polygon points="672.30,482.28 676.37,489.33 668.23,489.33" fill="#b2df8a"/>
<polyline points="402.30,472.29 426.85,466.10 451.39,459.60 475.94,455.37 525.03,421.18 574.12,399.10 623.21,354.28 672.30,318.88" fill="none" stroke="#33a02c" stroke-width="1.0" stroke-dasharray="4.7 2.3 1 2.3"/>
<polygon points="402.30,476.99 406.37,469.94 398.23,469.94" fill="#33a02c"/>
<polygon points="426.85,470.80 430.92,463.75 422.78,463.75" fill="#33a02c"/>
<polygon points="451.39,464.30 455.46,457.25 447.32,457.25" fill="#33a02c"/>
<polygon points="475.94,460.07 480.01,453.02 471.87,453.02" fill="#33a02c"/>
<polygon points="525.03,425.88 529.10,418.83 520.96,418.83" fill="#33a02c"/>
<polygon points="574.12,403.80 578.19,396.75 570.05,396.75" fill="#33a02c"/>
<polygon points="623.21,358.98 627.28,351.93 619.14,351.93" fill="#33a02c"/>
<polygon points="672.30,323.58 676.37,316.53 668.23,316.53" fill="#33a02c"/>
<polyline points="402.30,477.09 426.85,472.92 451.39,470.12 475.94,466.79 525.03,453.21 574.12,445.70 623.21,434.92 672.30,423.83" fill="none" stroke="#fb9a99" stroke-width="1.0" stroke-dasharray="4.7 2.3 1 2.3"/>
<polygon points="402.30,472.59 406.80,477.09 402.30,481.59 397.80,477.09" fill="#fb9a99"/>
<polygon points="426.85,468.42 431.35,472.92 426.85,477.42 422.35,472.92" fill="#fb9a99"/>
<polygon points="451.39,465.62 455.89,470.12 451.39,474.62 446.89,470.12" fill="#fb9a99"/>
<polygon points="475.94,462.29 480.44,466.79 475.94,471.29 471.44,466.79" fill="#fb9a99"/>
<polygon points="525.03,448.71 529.53,453.21 525.03,457.71 520.53,453.21" fill="#fb9a99"/>
<polygon points="574.12,441.20 578.62,445.70 574.12,450.20 569.62,445.70" fill="#fb9a99"/>
<polygon points="623.21,430.42 627.71,434.92 623.21,439.42 618.71,434.92" fill="#fb9a99"/>
<polygon points="672.30,419.33 676.80,423.83 672.30,428.33 667.80,423.83" fill="#fb9a99"/>
<polyline points="402.30,494.22 426.85,495.70 451.39,495.22 475.94,493.69 525.03,487.98 574.12,484.18 623.21,479.79 672.30,475.77" fill="none" stroke="#e31a1c" stroke-width="1.0" stroke-dasharray="4.7 2.3 1 2.3"/>
<polygon points="402.30,489.92 403.44,492.65 406.39,492.89 404.14,494.81 404.83,497.69 402.30,496.15 399.77,497.69 400.46,494.81 398.21,492.89 401.16,492.65" fill="#e31a1c"/>
<polygon points="426.85,491.40 427.98,494.13 430.93,494.37 428.69,496.29 429.37,499.17 426.85,497.63 424.32,499.17 425.01,496.29 422.76,494.37 425.71,494.13" fill="#e31a1c"/>
<polygon points="451.39,490.92 452.53,493.65 455.48,493.89 453.23,495.82 453.92,498.70 451.39,497.15 448.86,498.70 449.55,495.82 447.30,493.89 450.25,493.65" fill="#e31a1c"/>
<polygon points="475.94,489.39 477.07,492.12 480.03,492.36 477.78,494.28 478.46,497.17 475.94,495.62 473.41,497.17 474.10,494.28 471.85,492.36 474.80,492.12" fill="#e31a1c"/>
<polygon points="525.03,483.68 526.16,486.41 529.12,486.65 526.87,488.58 527.55,491.46 525.03,489.91 522.50,491.46 523.19,488.58 520.94,486.65 523.89,486.41" fill="#e31a1c"/>
<polygon points="574.12,479.88 575.26,482.61 578.21,482.85 575.96,484.77 576.65,487.65 574.12,486.11 571.59,487.65 572.28,484.77 570.03,482.85 572.98,482.61" fill="#e31a1c"/>
<polygon points="623.21,475.49 624.35,478.22 627.30,478.46 625.05,480.39 625.74,483.27 623.21,481.72 620.68,483.27 621.37,480.39 619.12,478.46 622.07,478.22" fill="#e31a1c"/>
<polygon points="672.30,471.47 673.44,474.21 676.39,474.44 674.14,476.37 674.83,479.25 672.30,477.71 669.77,479.25 670.46,476.37 668.21,474.44 671.16,474.21" fill="#e31a1c"/>
</g>
<rect x="396.6" y="307.6" width="237.19999999999993" height="24.19999999999999" fill="#000"/>
<rect x="393.6" y="304.6" width="237.19999999999993" height="24.19999999999999" fill="#fff" stroke="#b0b0b0" stroke-width="1"/>
<line x1="394.90" y1="311.10" x2="416.90" y2="311.10" stroke="#a6cee3" stroke-width="1.2"/>
<rect x="402.65" y="307.85" width="6.5" height="6.5" fill="#a6cee3"/>
<text x="419.70" y="314.40" font-size="9.5" text-anchor="start" fill="#1a1a1a">WK pH=9</text>
<line x1="476.00" y1="311.10" x2="498.00" y2="311.10" stroke="#1f78b4" stroke-width="1.2"/>
<circle cx="487.00" cy="311.10" r="3.6" fill="#1f78b4"/>
<text x="500.80" y="314.40" font-size="9.5" text-anchor="start" fill="#1a1a1a">WK pH=7</text>
<line x1="556.90" y1="311.10" x2="578.90" y2="311.10" stroke="#b2df8a" stroke-width="1.2"/>
<polygon points="567.90,306.40 571.97,313.45 563.83,313.45" fill="#b2df8a"/>
<text x="581.70" y="314.40" font-size="9.5" text-anchor="start" fill="#1a1a1a">WK pH=4</text>
<line x1="394.90" y1="322.70" x2="416.90" y2="322.70" stroke="#33a02c" stroke-width="1.2" stroke-dasharray="4.7 2.3 1 2.3"/>
<polygon points="405.90,327.40 409.97,320.35 401.83,320.35" fill="#33a02c"/>
<text x="419.70" y="326.00" font-size="9.5" text-anchor="start" fill="#1a1a1a">DBS5 pH=9</text>
<line x1="476.00" y1="322.70" x2="498.00" y2="322.70" stroke="#fb9a99" stroke-width="1.2" stroke-dasharray="4.7 2.3 1 2.3"/>
<polygon points="487.00,318.20 491.50,322.70 487.00,327.20 482.50,322.70" fill="#fb9a99"/>
<text x="500.80" y="326.00" font-size="9.5" text-anchor="start" fill="#1a1a1a">DBS5 pH=7</text>
<line x1="556.90" y1="322.70" x2="578.90" y2="322.70" stroke="#e31a1c" stroke-width="1.2" stroke-dasharray="4.7 2.3 1 2.3"/>
<polygon points="567.90,318.40 569.04,321.13 571.99,321.37 569.74,323.30 570.43,326.18 567.90,324.63 565.37,326.18 566.06,323.30 563.81,321.37 566.76,321.13" fill="#e31a1c"/>
<text x="581.70" y="326.00" font-size="9.5" text-anchor="start" fill="#1a1a1a">DBS5 pH=4</text>
</svg>
</body></html>
